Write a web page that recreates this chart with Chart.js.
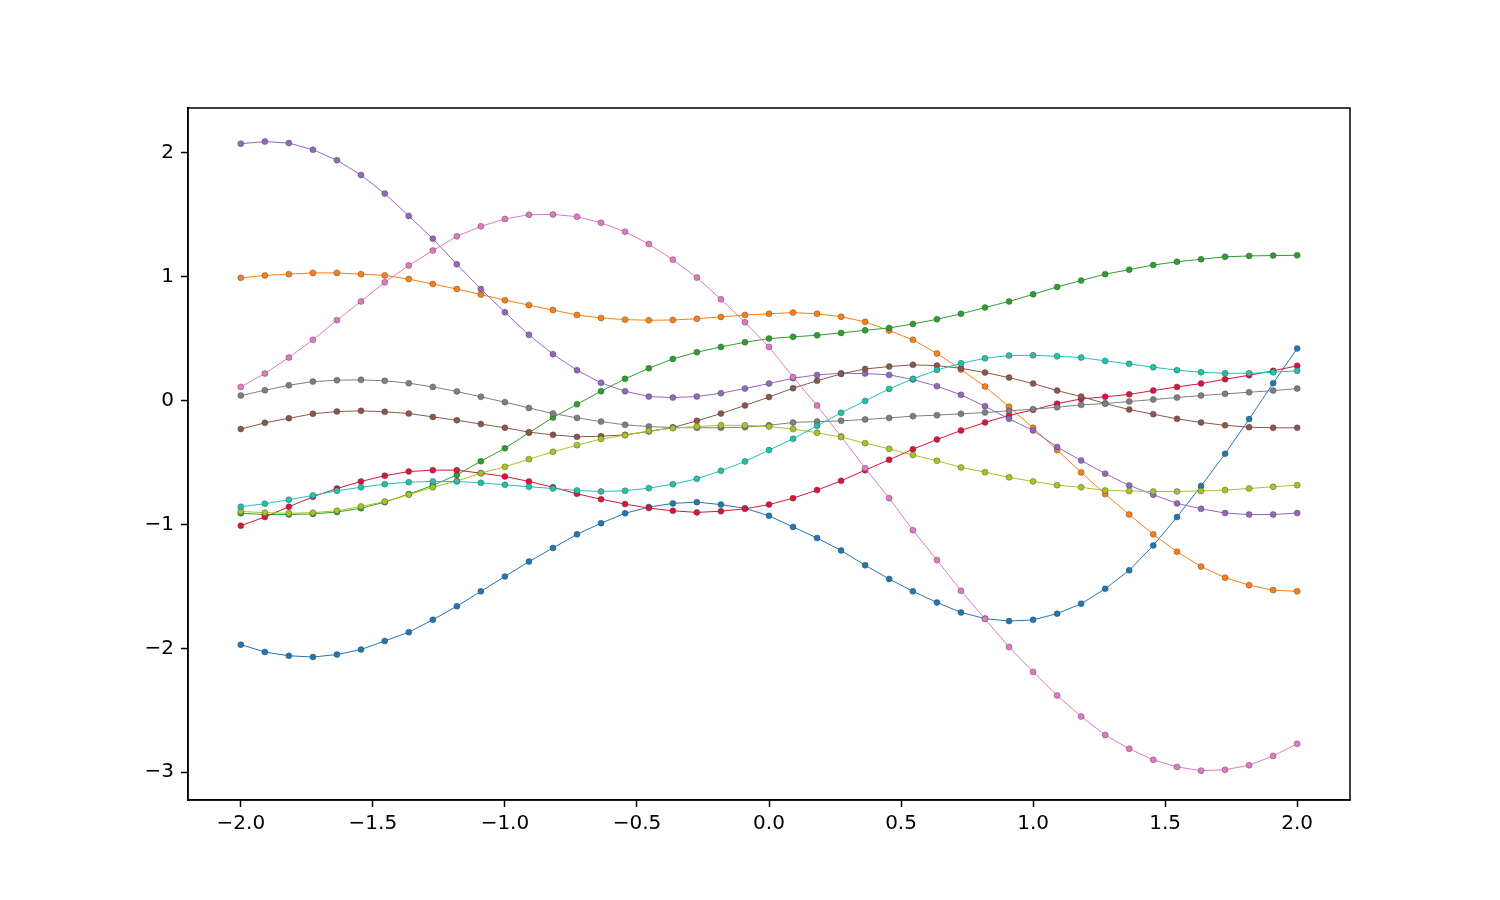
<!DOCTYPE html>
<html>
<head>
<meta charset="utf-8">
<title>Curves</title>
<script src="https://cdn.jsdelivr.net/npm/chart.js"></script>
<style>
  html, body { margin: 0; padding: 0; background: #fff; }
  #wrap { width: 1500px; height: 900px; }
</style>
</head>
<body>
<div id="wrap"><canvas id="curveChart" width="1500" height="900"></canvas></div>
<script>
// x sample points (45 evenly spaced from -2 to 2)
const xValues = [-2, -1.909, -1.818, -1.727, -1.636, -1.545, -1.455, -1.364, -1.273, -1.182, -1.091,
  -1, -0.909, -0.818, -0.727, -0.636, -0.545, -0.455, -0.364, -0.273, -0.182, -0.091,
  0, 0.091, 0.182, 0.273, 0.364, 0.455, 0.545, 0.636, 0.727, 0.818, 0.909,
  1, 1.091, 1.182, 1.273, 1.364, 1.455, 1.545, 1.636, 1.727, 1.818, 1.909, 2];

const xTickValues = [-2.0, -1.5, -1.0, -0.5, 0.0, 0.5, 1.0, 1.5, 2.0];
const yTickValues = [-3, -2, -1, 0, 1, 2];

// series values
const blueVals = [-1.97, -2.03, -2.06, -2.07, -2.05, -2.01, -1.94, -1.87, -1.77, -1.66, -1.54,
  -1.42, -1.30, -1.19, -1.08, -0.99, -0.91, -0.86, -0.83, -0.82, -0.84, -0.87, -0.93,
  -1.02, -1.11, -1.21, -1.33, -1.44, -1.54, -1.63, -1.71, -1.76, -1.78, -1.77, -1.72,
  -1.64, -1.52, -1.37, -1.17, -0.94, -0.69, -0.43, -0.15, 0.14, 0.42];
const orangeVals = [0.99, 1.01, 1.02, 1.03, 1.03, 1.02, 1.01, 0.98, 0.94, 0.90, 0.855,
  0.81, 0.77, 0.73, 0.69, 0.667, 0.653, 0.648, 0.65, 0.66, 0.675, 0.69, 0.70,
  0.71, 0.70, 0.677, 0.635, 0.565, 0.49, 0.38, 0.25, 0.113, -0.05, -0.22, -0.40,
  -0.58, -0.755, -0.92, -1.08, -1.22, -1.34, -1.43, -1.49, -1.53, -1.54];
const greenVals = [-0.91, -0.92, -0.92, -0.915, -0.90, -0.87, -0.82, -0.755, -0.685, -0.60, -0.49,
  -0.385, -0.26, -0.137, -0.03, 0.075, 0.175, 0.26, 0.336, 0.39, 0.433, 0.47, 0.50,
  0.514, 0.527, 0.546, 0.567, 0.586, 0.618, 0.656, 0.70, 0.75, 0.80, 0.857, 0.917,
  0.968, 1.02, 1.056, 1.094, 1.12, 1.14, 1.16, 1.167, 1.17, 1.172];
const redVals = [-1.01, -0.94, -0.857, -0.777, -0.71, -0.653, -0.607, -0.573, -0.562, -0.562, -0.586,
  -0.613, -0.653, -0.70, -0.753, -0.796, -0.836, -0.868, -0.89, -0.903, -0.893, -0.874, -0.84,
  -0.788, -0.723, -0.648, -0.562, -0.478, -0.393, -0.315, -0.242, -0.177, -0.12, -0.075, -0.025,
  0.013, 0.03, 0.05, 0.08, 0.11, 0.137, 0.172, 0.204, 0.24, 0.28];
const purpleVals = [2.073, 2.09, 2.078, 2.024, 1.94, 1.82, 1.67, 1.49, 1.306, 1.10, 0.90,
  0.712, 0.53, 0.374, 0.245, 0.143, 0.075, 0.032, 0.024, 0.032, 0.059, 0.097, 0.137,
  0.18, 0.207, 0.22, 0.218, 0.207, 0.17, 0.116, 0.046, -0.046, -0.148, -0.242, -0.375,
  -0.484, -0.59, -0.685, -0.76, -0.83, -0.874, -0.908, -0.92, -0.92, -0.908];
const brownVals = [-0.23, -0.18, -0.143, -0.107, -0.089, -0.083, -0.091, -0.105, -0.132, -0.159, -0.19,
  -0.22, -0.255, -0.277, -0.293, -0.288, -0.277, -0.25, -0.218, -0.164, -0.105, -0.04, 0.028,
  0.1, 0.159, 0.215, 0.255, 0.274, 0.288, 0.282, 0.26, 0.226, 0.185, 0.137, 0.08,
  0.032, -0.024, -0.073, -0.11, -0.148, -0.177, -0.20, -0.215, -0.22, -0.22];
const pinkVals = [0.11, 0.218, 0.347, 0.49, 0.648, 0.80, 0.954, 1.09, 1.21, 1.325, 1.406,
  1.465, 1.50, 1.502, 1.484, 1.435, 1.363, 1.263, 1.137, 0.992, 0.817, 0.631, 0.433,
  0.19, -0.04, -0.29, -0.546, -0.788, -1.046, -1.288, -1.535, -1.763, -1.99, -2.19, -2.38,
  -2.55, -2.70, -2.81, -2.90, -2.957, -2.987, -2.98, -2.944, -2.868, -2.77];
const grayVals = [0.04, 0.083, 0.123, 0.153, 0.164, 0.167, 0.159, 0.14, 0.11, 0.073, 0.03,
  -0.013, -0.06, -0.105, -0.14, -0.17, -0.196, -0.21, -0.218, -0.22, -0.22, -0.215, -0.20,
  -0.177, -0.17, -0.164, -0.153, -0.14, -0.126, -0.118, -0.107, -0.097, -0.083, -0.07, -0.054,
  -0.035, -0.024, -0.008, 0.008, 0.024, 0.04, 0.054, 0.067, 0.08, 0.097];
const oliveVals = [-0.895, -0.905, -0.91, -0.905, -0.89, -0.855, -0.815, -0.76, -0.70, -0.65, -0.586,
  -0.535, -0.473, -0.414, -0.36, -0.31, -0.28, -0.245, -0.223, -0.21, -0.20, -0.20, -0.21,
  -0.23, -0.26, -0.295, -0.344, -0.39, -0.44, -0.486, -0.54, -0.578, -0.62, -0.653, -0.683,
  -0.70, -0.726, -0.73, -0.734, -0.734, -0.73, -0.723, -0.71, -0.696, -0.683];
const cyanVals = [-0.857, -0.833, -0.80, -0.766, -0.728, -0.70, -0.675, -0.659, -0.653, -0.653, -0.664,
  -0.68, -0.696, -0.71, -0.726, -0.734, -0.728, -0.707, -0.675, -0.632, -0.567, -0.492, -0.40,
  -0.309, -0.204, -0.099, -0.003, 0.094, 0.175, 0.247, 0.30, 0.341, 0.363, 0.365, 0.357,
  0.347, 0.32, 0.296, 0.269, 0.245, 0.228, 0.22, 0.22, 0.228, 0.24];

const allSeries = [blueVals, orangeVals, greenVals, redVals, purpleVals, brownVals, pinkVals, grayVals, oliveVals, cyanVals];
const seriesColors = ['#1f77b4', '#ff7f0e', '#2ca02c', '#dc143c', '#9467bd', '#8c564b', '#e377c2', '#7f7f7f', '#a8c41e', '#1cc4b0'];

function minusSign(v, digits) {
  return v.toFixed(digits).replace('-', '\u2212');
}

// matplotlib draws later series on top
const datasets = allSeries.map(function (vals, i) {
  return {
    data: vals.map(function (y, k) { return { x: xValues[k], y: y }; }),
    borderColor: seriesColors[i],
    borderWidth: 1,
    pointRadius: 3,
    pointBackgroundColor: seriesColors[i],
    pointBorderColor: 'rgba(60,60,60,0.5)',
    pointBorderWidth: 0.8,
    tension: 0,
    fill: false,
    order: allSeries.length - i
  };
});

// frame on all four sides of the plot area
const framePlugin = {
  id: 'frame',
  afterDraw: function (chart) {
    const a = chart.chartArea;
    const c = chart.ctx;
    c.save();
    c.strokeStyle = '#000';
    c.lineWidth = 1.5;
    c.strokeRect(a.left, a.top, a.right - a.left, a.bottom - a.top);
    c.restore();
  }
};

const tickFont = { family: 'DejaVu Sans', size: 20 };

new Chart(document.getElementById('curveChart').getContext('2d'), {
  type: 'line',
  data: { datasets: datasets },
  options: {
    responsive: false,
    devicePixelRatio: 1,
    animation: false,
    layout: { padding: { left: 0, top: 108, right: 150, bottom: 0 } },
    plugins: { legend: { display: false }, tooltip: { enabled: false } },
    scales: {
      x: {
        type: 'linear',
        min: -2.2,
        max: 2.2,
        afterBuildTicks: function (scale) {
          scale.ticks = xTickValues.map(function (v) { return { value: v }; });
        },
        afterFit: function (scale) { scale.height = 100; },
        ticks: {
          color: '#000',
          font: tickFont,
          padding: 5,
          maxRotation: 0,
          callback: function (v) { return minusSign(v, 1); }
        },
        grid: { drawOnChartArea: false, tickLength: 7, tickWidth: 1.5, tickColor: '#000' },
        border: { color: '#000', width: 1.5 }
      },
      y: {
        type: 'linear',
        min: -3.224,
        max: 2.361,
        afterBuildTicks: function (scale) {
          scale.ticks = yTickValues.map(function (v) { return { value: v }; });
        },
        afterFit: function (scale) { scale.width = 188; },
        ticks: {
          color: '#000',
          font: tickFont,
          padding: 7,
          callback: function (v) { return minusSign(v, 0); }
        },
        grid: { drawOnChartArea: false, tickLength: 7, tickWidth: 1.5, tickColor: '#000' },
        border: { color: '#000', width: 1.5 }
      }
    }
  },
  plugins: [framePlugin]
});
</script>
</body>
</html>
